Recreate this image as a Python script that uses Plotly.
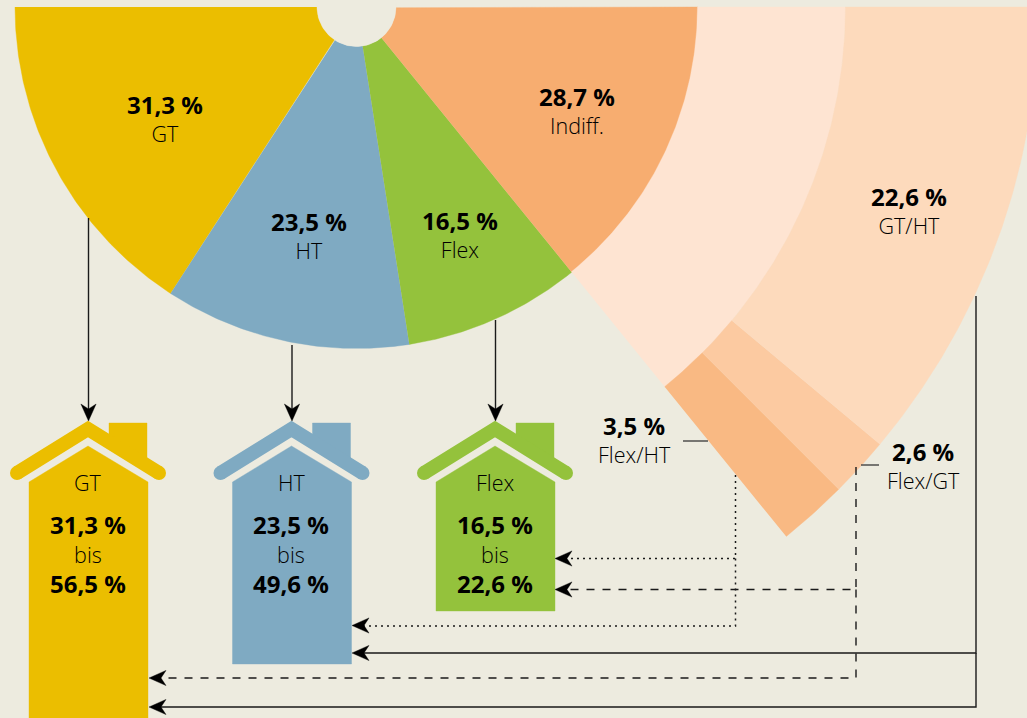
import math
import plotly.graph_objects as go

# ---- data ----
main_labels = ["GT", "HT", "Flex", "Indiff."]
main_values = [31.3, 23.5, 16.5, 28.7]
split_labels = ["Flex/HT", "Flex/GT", "GT/HT"]
split_values = [3.5, 2.6, 22.6]
house_labels = ["GT", "HT", "Flex"]
house_low = [31.3, 23.5, 16.5]
house_high = [56.5, 49.6, 22.6]

# ---- styles / layout ----
W, H = 1027, 718
BG = "#edebdf"
main_colors = ["#ebbe00", "#7faac2", "#94c23c", "#f7ad70"]
split_colors = ["#f9b983", "#fccaa1", "#fddabc"]
band_color = "#fee4d2"
CX, CY = 356.5, 7
R_HOLE, R_MAIN, R_BAND, R_OUT = 39.5, 341.5, 489, 682
# small drawing corrections (degrees) of the edges between the sectors
main_edge_shift = [0, 0.66, 0.26, 0.72, 0]
split_edge_shift = [0.72, 0.36, 0.8, 0]
FONT = "Open Sans"
SOFT = "#000000"
BOLD_SIZE = 24

fig = go.Figure()


def fmt(v):
    s = f"{v:.1f}".replace(".", ",") + " %"
    return f'<b><span style="font-size:{BOLD_SIZE}px;color:#000000">{s}</span></b>'


def poly(xs, ys, color):
    fig.add_trace(go.Scatter(x=xs, y=ys, mode="lines", fill="toself", fillcolor=color,
                             line=dict(color=color, width=0.4), hoverinfo="skip", showlegend=False))


def wedge(a0, a1, r0, r1, color):
    # a0, a1: angles in degrees, measured from the left along the lower half circle
    n = max(8, int(abs(a1 - a0) * 2))
    a = [math.radians(a0 + (a1 - a0) * i / n) for i in range(n + 1)]
    xs = [CX - r1 * math.cos(t) for t in a] + [CX - r0 * math.cos(t) for t in reversed(a)]
    ys = [CY + r1 * math.sin(t) for t in a] + [CY + r0 * math.sin(t) for t in reversed(a)]
    poly(xs, ys, color)


def path(xs, ys, color="#1a1a1a", width=1.4, dash="solid"):
    fig.add_trace(go.Scatter(x=xs, y=ys, mode="lines", line=dict(color=color, width=width, dash=dash),
                             hoverinfo="skip", showlegend=False))


def head(x, y, dx, dy):
    # arrowhead with its tip at (x, y), pointing along (dx, dy)
    L, N, B = 17, 12, 7.6
    px, py = -dy, dx
    poly([x, x - dx * L + px * B, x - dx * N, x - dx * L - px * B, x],
         [y, y - dy * L + py * B, y - dy * N, y - dy * L - py * B, y], "#000000")


def text(x, y, s, size=21.5):
    fig.add_annotation(x=x, y=y, text=s, showarrow=False, xanchor="center", yanchor="middle",
                       align="center", font=dict(family=FONT, size=size, color=SOFT, weight=300))


# ---- main half pie ----
cum = 0
edges = [0]
for v in main_values:
    cum += v
    edges.append(cum)
angles = [p * 1.8 + s for p, s in zip(edges, main_edge_shift)]
for i, c in enumerate(main_colors):
    wedge(angles[i], angles[i + 1], R_HOLE, R_MAIN, c)

# ---- exploded Indiff. rings ----
wedge(angles[3], 180, R_MAIN - 0.5, R_BAND, band_color)
cum = edges[3]
split_edges = [cum]
for v in split_values:
    cum += v
    split_edges.append(cum)
split_angles = [p * 1.8 + s for p, s in zip(split_edges, split_edge_shift)]
for i, c in enumerate(split_colors):
    wedge(split_angles[i], split_angles[i + 1], R_BAND, R_OUT, c)

# hole
ang = [2 * math.pi * i / 120 for i in range(121)]
poly([CX + R_HOLE * math.cos(t) for t in ang], [CY + R_HOLE * math.sin(t) for t in ang], BG)

# ---- houses ----
house_cx = [88, 291.5, 495]
house_bottom = [730, 664, 611]
for cx, bottom, c in zip(house_cx, house_bottom, main_colors):
    poly([cx - 59, cx, cx + 60, cx + 60, cx - 59, cx - 59],
         [482, 446, 482, bottom, bottom, 482], c)
    poly([cx + 21, cx + 59, cx + 59, cx + 21, cx + 21], [423, 423, 465, 442, 423], c)
    fig.add_trace(go.Scatter(x=[cx - 71, cx, cx + 71], y=[473, 429, 473], mode="lines+markers",
                             line=dict(color=c, width=14),
                             marker=dict(color=c, size=[14, 0, 14], opacity=1, line=dict(width=0)),
                             hoverinfo="skip", showlegend=False))

# ---- connectors ----
for x, y0 in zip(house_cx, [218, 345, 320]):
    xa = x + 0.5
    path([xa, xa], [y0, 410], width=1.4)
    head(xa, 421, 0, 1)

# leaders
path([683, 708], [441, 441], color="#444444", width=1.4)
path([861, 879], [465, 465], color="#444444", width=1.4)

# dotted: Flex/HT
DOT = "2px,4px"
path([735.5, 735.5, 565], [475, 558.5, 558.5], dash=DOT, width=1.5)
path([735.5, 735.5, 362], [558.5, 626, 626], dash=DOT, width=1.5)
head(555, 558.5, -1, 0)
head(352, 625.5, -1, 0)

# dashed: Flex/GT
DASH = "8px,8px"
path([856, 856, 566], [467, 589.5, 589.5], dash=DASH, width=1.4)
path([856, 856, 160], [589.5, 678, 678], dash=DASH, width=1.4)
head(555, 589.5, -1, 0)
head(149, 678, -1, 0)

# solid: GT/HT
path([976, 976, 362], [296, 653, 653], width=1.4)
path([976, 976, 160], [653, 707, 707], width=1.4)
head(352, 653, -1, 0)
head(149, 707, -1, 0)

# ---- texts ----
main_pos = [(164.5, 118), (309, 235), (459.5, 234), (577, 110)]
for (x, y), lab, v in zip(main_pos, main_labels, main_values):
    text(x, y, f"{fmt(v)}<br>{lab}")
split_pos = [(634.5, 438.5), (923, 465), (909, 210)]
for (x, y), lab, v in zip(split_pos, split_labels, split_values):
    text(x, y, f"{fmt(v)}<br>{lab}")
for cx, lab, lo, hi in zip(house_cx, house_labels, house_low, house_high):
    text(cx, 482.5, lab)
    text(cx - 0.5, 553.5, f'{fmt(lo)}<br><span style="font-size:21.5px">bis</span><br>{fmt(hi)}', size=22.5)

fig.update_layout(width=W, height=H, autosize=False, margin=dict(l=0, r=0, t=0, b=0, pad=0),
                  paper_bgcolor=BG, plot_bgcolor=BG, showlegend=False,
                  xaxis=dict(range=[0, W], visible=False, fixedrange=True),
                  yaxis=dict(range=[H, 0], visible=False, fixedrange=True))
fig.write_html("out.html", config={"displayModeBar": False},
               post_script="document.body.style.margin='0';document.body.style.background='%s';" % BG)
